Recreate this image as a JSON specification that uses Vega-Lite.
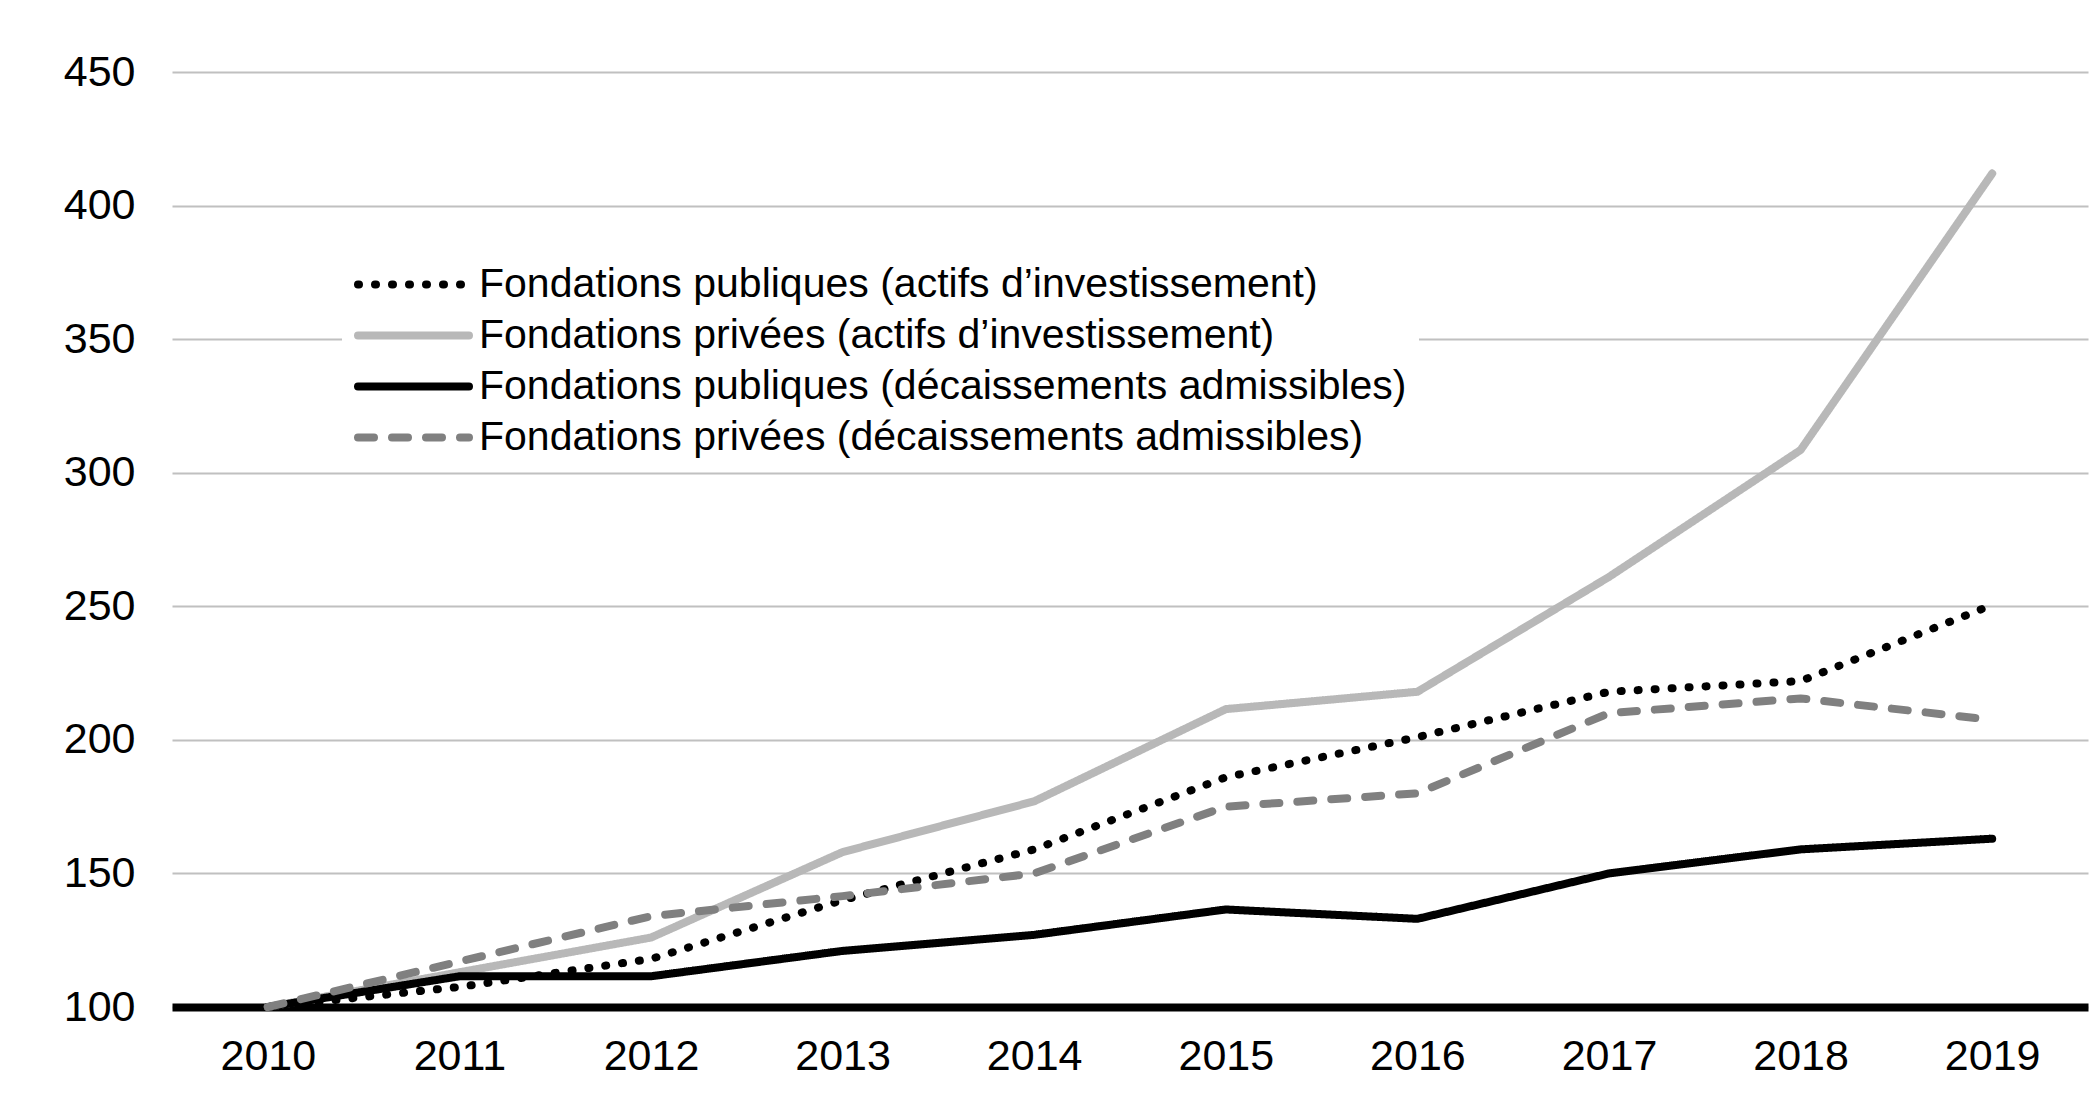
{
  "$schema": "https://vega.github.io/schema/vega-lite/v6.json",
  "width": 1916,
  "height": 935,
  "autosize": "none",
  "padding": {"left": 172, "top": 72, "right": 3, "bottom": 103},
  "background": "white",
  "config": {
    "view": {"stroke": null},
    "font": "Liberation Sans",
    "axis": {"labelFont": "Liberation Sans", "labelColor": "black", "labelFontSize": 43, "ticks": false, "title": null},
    "legend": {
      "title": null,
      "orient": "none",
      "legendX": 170,
      "legendY": 178,
      "padding": 12,
      "fillColor": "white",
      "symbolType": "M-1,0H5",
      "symbolSize": 1369,
      "symbolStrokeWidth": 8,
      "labelFont": "Liberation Sans",
      "labelFontSize": 41,
      "labelColor": "black",
      "labelOffset": 80,
      "labelLimit": 1400,
      "rowPadding": 8
    }
  },
  "data": {
    "values": [
      {"year": "2010", "series": "Fondations publiques (actifs d’investissement)", "value": 100},
      {"year": "2011", "series": "Fondations publiques (actifs d’investissement)", "value": 107.5},
      {"year": "2012", "series": "Fondations publiques (actifs d’investissement)", "value": 118},
      {"year": "2013", "series": "Fondations publiques (actifs d’investissement)", "value": 140},
      {"year": "2014", "series": "Fondations publiques (actifs d’investissement)", "value": 159},
      {"year": "2015", "series": "Fondations publiques (actifs d’investissement)", "value": 186},
      {"year": "2016", "series": "Fondations publiques (actifs d’investissement)", "value": 201},
      {"year": "2017", "series": "Fondations publiques (actifs d’investissement)", "value": 218},
      {"year": "2018", "series": "Fondations publiques (actifs d’investissement)", "value": 222},
      {"year": "2019", "series": "Fondations publiques (actifs d’investissement)", "value": 250.5},
      {"year": "2010", "series": "Fondations privées (actifs d’investissement)", "value": 100},
      {"year": "2011", "series": "Fondations privées (actifs d’investissement)", "value": 113},
      {"year": "2012", "series": "Fondations privées (actifs d’investissement)", "value": 126},
      {"year": "2013", "series": "Fondations privées (actifs d’investissement)", "value": 158},
      {"year": "2014", "series": "Fondations privées (actifs d’investissement)", "value": 177},
      {"year": "2015", "series": "Fondations privées (actifs d’investissement)", "value": 211.5},
      {"year": "2016", "series": "Fondations privées (actifs d’investissement)", "value": 218},
      {"year": "2017", "series": "Fondations privées (actifs d’investissement)", "value": 261},
      {"year": "2018", "series": "Fondations privées (actifs d’investissement)", "value": 308.5},
      {"year": "2019", "series": "Fondations privées (actifs d’investissement)", "value": 412},
      {"year": "2010", "series": "Fondations publiques (décaissements admissibles)", "value": 100},
      {"year": "2011", "series": "Fondations publiques (décaissements admissibles)", "value": 111.5},
      {"year": "2012", "series": "Fondations publiques (décaissements admissibles)", "value": 111.5},
      {"year": "2013", "series": "Fondations publiques (décaissements admissibles)", "value": 121},
      {"year": "2014", "series": "Fondations publiques (décaissements admissibles)", "value": 127},
      {"year": "2015", "series": "Fondations publiques (décaissements admissibles)", "value": 136.5},
      {"year": "2016", "series": "Fondations publiques (décaissements admissibles)", "value": 133},
      {"year": "2017", "series": "Fondations publiques (décaissements admissibles)", "value": 150},
      {"year": "2018", "series": "Fondations publiques (décaissements admissibles)", "value": 159},
      {"year": "2019", "series": "Fondations publiques (décaissements admissibles)", "value": 163},
      {"year": "2010", "series": "Fondations privées (décaissements admissibles)", "value": 100},
      {"year": "2011", "series": "Fondations privées (décaissements admissibles)", "value": 117},
      {"year": "2012", "series": "Fondations privées (décaissements admissibles)", "value": 134},
      {"year": "2013", "series": "Fondations privées (décaissements admissibles)", "value": 141.5},
      {"year": "2014", "series": "Fondations privées (décaissements admissibles)", "value": 150},
      {"year": "2015", "series": "Fondations privées (décaissements admissibles)", "value": 175},
      {"year": "2016", "series": "Fondations privées (décaissements admissibles)", "value": 180},
      {"year": "2017", "series": "Fondations privées (décaissements admissibles)", "value": 210},
      {"year": "2018", "series": "Fondations privées (décaissements admissibles)", "value": 215.5},
      {"year": "2019", "series": "Fondations privées (décaissements admissibles)", "value": 207.5}
    ]
  },
  "mark": {"type": "line", "strokeWidth": 8, "strokeCap": "round", "strokeJoin": "round"},
  "encoding": {
    "x": {
      "field": "year",
      "type": "ordinal",
      "scale": {"padding": 0.5},
      "axis": {"labelAngle": 0, "labelPadding": 28, "domainColor": "black", "domainWidth": 8, "grid": false}
    },
    "y": {
      "field": "value",
      "type": "quantitative",
      "scale": {"domain": [100, 450], "nice": false, "zero": false},
      "axis": {"values": [100, 150, 200, 250, 300, 350, 400, 450], "domain": false, "labelPadding": 37, "gridColor": "#c0c0c0", "gridWidth": 2}
    },
    "color": {
      "field": "series",
      "type": "nominal",
      "scale": {
        "domain": ["Fondations publiques (actifs d’investissement)", "Fondations privées (actifs d’investissement)", "Fondations publiques (décaissements admissibles)", "Fondations privées (décaissements admissibles)"],
        "range": ["#000000", "#b8b8b8", "#000000", "#808080"]
      },
      "legend": {"encode": {"symbols": {"update": {"strokeCap": {"value": "round"}}}}}
    },
    "strokeDash": {
      "field": "series",
      "type": "nominal",
      "scale": {
        "domain": ["Fondations publiques (actifs d’investissement)", "Fondations privées (actifs d’investissement)", "Fondations publiques (décaissements admissibles)", "Fondations privées (décaissements admissibles)"],
        "range": [[1, 16], [1, 0], [1, 0], [16, 18]]
      },
      "legend": {"encode": {"symbols": {"update": {"strokeCap": {"value": "round"}}}}}
    }
  }
}
